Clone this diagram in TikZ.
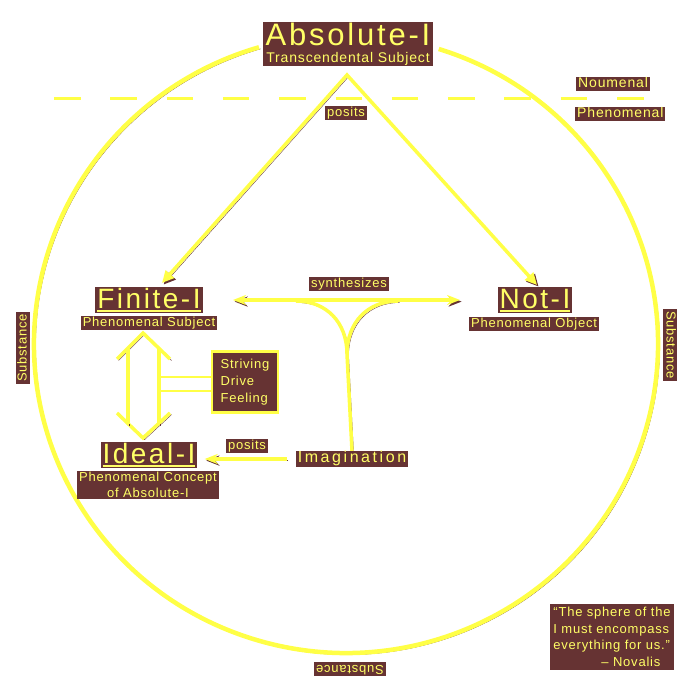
\documentclass[tikz,border=0pt]{standalone}
\usepackage{fontspec}
\setmainfont{Liberation Sans}
\newfontfamily\trackfont[LetterSpace=6]{Liberation Sans}
\newfontfamily\widefont[LetterSpace=9]{Liberation Sans}
\newfontfamily\widerfont[LetterSpace=16]{Liberation Sans}
\usepackage{xcolor}
\usepackage{tikz}
\usetikzlibrary{arrows.meta}

\definecolor{brn}{RGB}{102,51,51}
\definecolor{ylw}{RGB}{255,255,102}
\definecolor{ylwline}{RGB}{255,255,70}
\newcommand{\ulword}[1]{\setbox0\hbox{#1}\rlap{\rule[-3pt]{\wd0}{1.6pt}}\box0}

\begin{document}
\begin{tikzpicture}[x=1pt, y=-1pt, >=Stealth,
    glow/.style={draw=ylwline, line width=3.5pt, preaction={draw=brn, transform canvas={shift={(1.6pt,-1.6pt)}}}},
    tag/.style={fill=brn, text=ylw, inner xsep=2pt, inner ysep=1pt, font=\trackfont\fontsize{13}{16.5}\selectfont},
    lbl/.style={tag, text height=9.5pt, text depth=2.5pt},
    bigname/.style={tag, inner ysep=0.5pt, text height=21pt, text depth=4pt, font=\widefont\fontsize{28}{28}\selectfont}]
    \fill[white] (0,0) rectangle (700,700);
    \useasboundingbox (0,0) rectangle (700,700);

    % Sphere and the noumenal / phenomenal divide
    \coordinate (ctr) at (346,344);
    \draw[glow, line width=4.5pt] (ctr) ++(-72.7:312 and 309) arc[start angle=-72.7, end angle=253.8, x radius=312, y radius=309];
    \draw[ylwline, line width=3pt, dash pattern=on 26.5pt off 29.8pt] (54,99) -- (644,99);

    % Nodes
    \node[tag, align=center, inner xsep=3pt, inner ysep=1pt] (absI) at (348,44) {{\widefont\fontsize{31}{31}\selectfont Absolute-I}\\[1pt]{\trackfont\fontsize{14}{14}\selectfont Transcendental Subject}};
    \node[lbl, anchor=west, font=\trackfont\fontsize{14}{16}\selectfont] (noum) at (576,84) {Noumenal};
    \node[lbl, anchor=west, font=\trackfont\fontsize{14}{16}\selectfont] (phen) at (575,114) {Phenomenal};

    \node[bigname] (finI) at (149,300) {\ulword{Finite-I}};
    \node[lbl] (finSub) at (149,323) {Phenomenal Subject};
    \node[bigname] (notI) at (535,300) {\ulword{Not-I}};
    \node[lbl] (notSub) at (534,324) {Phenomenal Object};
    \node[bigname] (idealI) at (149,455) {\ulword{Ideal-I}};
    \node[tag, align=center] (idealSub) at (148,485) {Phenomenal Concept\\of Absolute-I};

    \node[tag, draw=ylwline, line width=2.5pt, align=left, font=\trackfont\fontsize{13}{17}\selectfont, minimum width=66pt, minimum height=61pt] (strive) at (245,382) {Striving\\Drive\\Feeling};
    \node[lbl, inner ysep=2pt, font=\widerfont\fontsize{16}{16}\selectfont] (imag) at (352,459) {Imagination};

    % Posits from the Absolute-I
    \coordinate (apex) at (347,75);
    \coordinate (tipL) at (162,283);
    \coordinate (tipR) at (537,285);
    \draw[glow, line join=miter, {Triangle[length=12pt,width=11pt]}-{Triangle[length=12pt,width=11pt]}] (tipL) -- (apex) -- (tipR);
    \node[lbl] (positsA) at (346,113) {posits};

    % Synthesis
    \coordinate (synL) at (233,300);
    \coordinate (synR) at (460,300);
    \coordinate (cusp) at (347,354);
    \draw[glow, {Stealth[length=13pt,width=10pt]}-{Stealth[length=13pt,width=10pt]}] (synL) -- (synR);
    \draw[glow] (296,301) .. controls (326,301) and (347,322) .. (cusp) .. controls (347,322) and (368,301) .. (398,301);
    \draw[glow] (cusp) -- (imag.north);
    \node[lbl] (synth) at (349,284) {synthesizes};

    \draw[glow, -{Stealth[length=13pt,width=10pt]}, shorten <=9pt, shorten >=7pt] (imag.west) -- (imag.west -| idealI.east);
    \node[lbl] (positsB) at (247,446) {posits};

    % Double arrow between Finite-I and Ideal-I
    \coordinate (dT) at (143,333);
    \coordinate (dB) at (143,438);
    \draw[glow, line join=miter] (117,359) -- (dT) -- (170,359);
    \draw[glow, line join=miter] (117,413) -- (dB) -- (170,413);
    \draw[glow] (128,348) -- (128,424);
    \draw[glow] (159,348) -- (159,424);
    \coordinate (sh1) at (159,377);
    \coordinate (sh2) at (159,391);
    \draw[ylwline, line width=2.5pt] (sh1) -- (sh1 -| strive.west);
    \draw[ylwline, line width=2.5pt] (sh2) -- (sh2 -| strive.west);

    % Substance all round
    \node[lbl, rotate=90] (subL) at (23,348) {Substance};
    \node[lbl, rotate=-90] (subR) at (670,345) {Substance};
    \node[lbl, rotate=180] (subB) at (350,669) {Substance};

    % Quote
    \node[tag, align=left, inner xsep=3pt, inner ysep=3pt] (quote) at (612,637) {“The sphere of the\\I must encompass\\everything for us.”\\\hspace*{48pt}– Novalis};
\end{tikzpicture}
\end{document}
